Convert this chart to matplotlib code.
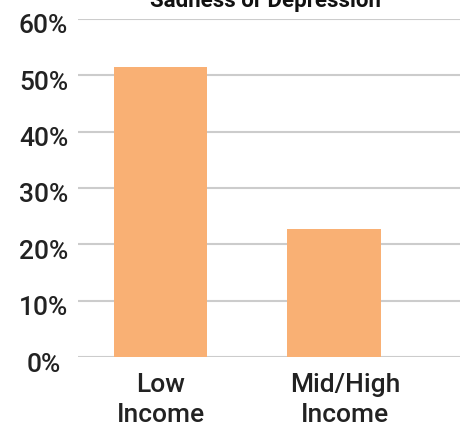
import matplotlib
matplotlib.use("Agg")
import matplotlib.pyplot as plt
from matplotlib.ticker import FuncFormatter
from matplotlib.transforms import ScaledTranslation

categories = ["Low\nIncome", "Mid/High\nIncome"]
values = [51.5, 22.8]
y_ticks = [0, 10, 20, 30, 40, 50, 60]
title = "Sadness or Depression"

plt.rcParams["font.family"] = ["Roboto", "DejaVu Sans"]

DPI = 100
fig = plt.figure(figsize=(4.63, 4.31), dpi=DPI)
ax = fig.add_axes([78 / 463, 1 - 358 / 431, (460 - 78) / 463, (358 - 20) / 431])

x = list(range(len(categories)))
ax.bar(x, values, width=0.536, color="#F9B074", zorder=3)

ax.set_ylim(0, 60)
ax.set_xlim(-0.475, 1.726)
ax.set_yticks(y_ticks)
ax.yaxis.set_major_formatter(FuncFormatter(lambda v, _: f"{v:.0f}%"))
ax.set_xticks(x)
ax.set_xticklabels(categories, linespacing=1.3)
ax.tick_params(axis="both", length=0, colors="#222222")
ax.tick_params(axis="y", pad=24.8, labelsize=19)
ax.tick_params(axis="x", pad=11, labelsize=19)

for tick in ax.yaxis.get_major_ticks():
    lbl = tick.label1
    lbl.set_fontweight("medium")
    lbl.set_horizontalalignment("center")
    lbl.set_transform(lbl.get_transform()
                      + ScaledTranslation(0, -4 / DPI, fig.dpi_scale_trans))

xticks = ax.xaxis.get_major_ticks()
for tick in xticks:
    tick.label1.set_fontweight("medium")
xticks[1].label1.set_transform(xticks[1].label1.get_transform()
                               + ScaledTranslation(11 / DPI, 0, fig.dpi_scale_trans))

ax.grid(axis="y", color="#CCCCCC", linewidth=1.5, zorder=0)
for s in ax.spines.values():
    s.set_visible(False)

fig.text(265 / 463, 1 - 1 / 431, title, ha="center", va="center",
         fontsize=16, fontweight="bold", color="#111111")

fig.savefig("out.png", dpi=DPI)
